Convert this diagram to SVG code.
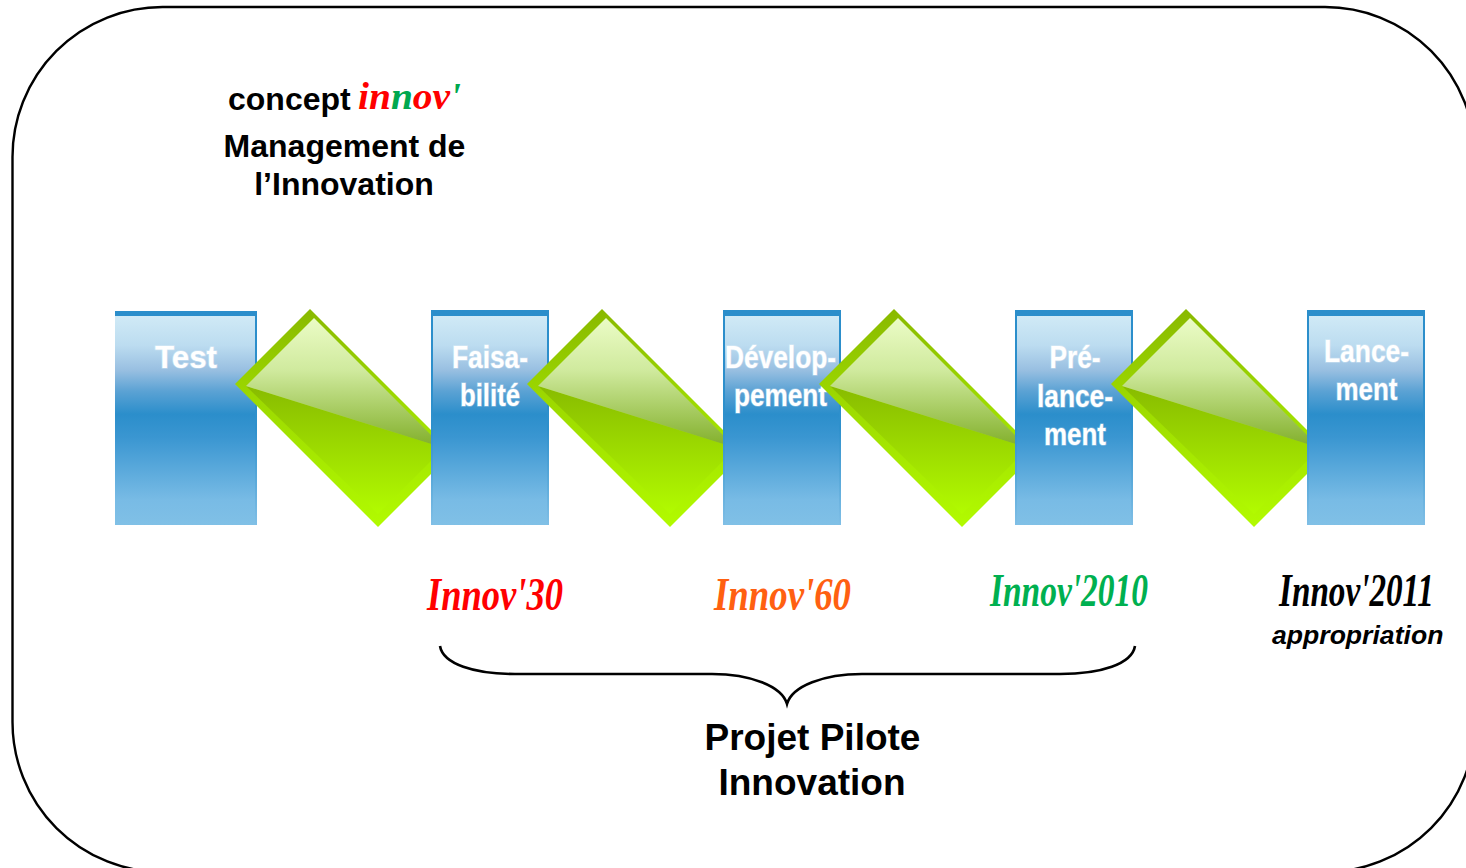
<svg xmlns="http://www.w3.org/2000/svg" width="1466" height="868" viewBox="0 0 1466 868">
<style>
text{font-family:"Liberation Sans",Arial,sans-serif;font-weight:bold;fill:#000}
.mid{text-anchor:middle}
.t32{font-size:32px}
.t37{font-size:37px}
.lbl{font-size:32px;fill:#fff;stroke:#fff;stroke-opacity:.3;stroke-width:1.6px;paint-order:stroke;text-anchor:middle}
.brush{font-family:"Liberation Serif","Times New Roman",serif;font-style:italic;font-weight:bold;font-size:46px}
.small{font-size:38px}
.frame,.brace{fill:none;stroke:#000}
.frame{stroke-width:2.4}
.brace{stroke-width:2.6}
</style>
<defs>
<linearGradient id="gBorder" x1="0" y1="0" x2="0" y2="1">
<stop offset="0" stop-color="#2b8ecb"/><stop offset=".55" stop-color="#2e90cc"/><stop offset="1" stop-color="#80bfe6"/>
</linearGradient>
<linearGradient id="gInner" x1="0" y1="0" x2="0" y2="1">
<stop offset="0" stop-color="#d0eaf6"/><stop offset=".14" stop-color="#bcdcf0"/><stop offset=".26" stop-color="#98bfe1"/><stop offset=".36" stop-color="#5ba2d4"/><stop offset=".47" stop-color="#2b8ecb"/><stop offset=".58" stop-color="#3a96d1"/><stop offset=".88" stop-color="#78bbe5"/><stop offset="1" stop-color="#80c0e6"/>
</linearGradient>
<linearGradient id="gDia" x1="0" y1="0" x2="0" y2="1">
<stop offset="0" stop-color="#89b900"/><stop offset=".4" stop-color="#9cd800"/><stop offset="1" stop-color="#b2fb00"/>
</linearGradient>
<linearGradient id="gLow" x1="0" y1="0" x2="0" y2="1">
<stop offset="0" stop-color="#88bb00"/><stop offset="1" stop-color="#b2fb00"/>
</linearGradient>
<linearGradient id="gHi" x1="0" y1="0" x2="0" y2="1">
<stop offset="0" stop-color="#ebfcc6"/><stop offset=".4" stop-color="#d0ea9e"/><stop offset="1" stop-color="#80ae28"/>
</linearGradient>
<g id="dia">
<polygon points="310,309 235,384 378,527 453,452" fill="url(#gDia)"/>
<polygon points="246,386 444,448 378,514" fill="url(#gLow)"/>
<polygon points="246,386 314,318 444,448" fill="url(#gHi)"/>
</g>
</defs>

<rect class="frame" x="12.5" y="7" width="1462.5" height="865" rx="150" ry="150"/>

<g id="title">
<text class="t32" x="228" y="110">concept</text>
<text class="brush small" x="358" y="109" textLength="103" lengthAdjust="spacingAndGlyphs" style="fill:#f00"><tspan style="fill:#f00">in</tspan><tspan style="fill:#00a84f">n</tspan><tspan style="fill:#f00">ov</tspan><tspan style="fill:#00a84f">'</tspan></text>
<text class="t32 mid" x="344.500" y="157">Management de</text>
<text class="t32 mid" x="344" y="195">l’Innovation</text>
</g>

<g id="node-test">
<rect x="115" y="311" width="142" height="214" fill="url(#gBorder)"/>
<rect x="115" y="316" width="140" height="209" fill="url(#gInner)"/>
<text class="lbl" x="186" y="368" textLength="62" lengthAdjust="spacingAndGlyphs">Test</text>
</g>
<g id="step-1"><use href="#dia"/></g>

<g id="node-faisabilite">
<rect x="431" y="310" width="118" height="215" fill="url(#gBorder)"/>
<rect x="433" y="316" width="114" height="209" fill="url(#gInner)"/>
<text class="lbl" x="490" y="368" textLength="76" lengthAdjust="spacingAndGlyphs">Faisa-</text>
<text class="lbl" x="490" y="406" textLength="60" lengthAdjust="spacingAndGlyphs">bilité</text>
</g>
<g id="step-2"><use href="#dia" x="292"/></g>

<g id="node-developpement">
<rect x="723" y="310" width="118" height="215" fill="url(#gBorder)"/>
<rect x="725" y="316" width="114" height="209" fill="url(#gInner)"/>
<text class="lbl" x="780.500" y="368" textLength="111" lengthAdjust="spacingAndGlyphs">Dévelop-</text>
<text class="lbl" x="780.500" y="406" textLength="93" lengthAdjust="spacingAndGlyphs">pement</text>
</g>
<g id="step-3"><use href="#dia" x="584"/></g>

<g id="node-prelancement">
<rect x="1015" y="310" width="118" height="215" fill="url(#gBorder)"/>
<rect x="1017" y="316" width="114" height="209" fill="url(#gInner)"/>
<text class="lbl" x="1075" y="368" textLength="51" lengthAdjust="spacingAndGlyphs">Pré-</text>
<text class="lbl" x="1075" y="407" textLength="76" lengthAdjust="spacingAndGlyphs">lance-</text>
<text class="lbl" x="1075" y="445" textLength="62" lengthAdjust="spacingAndGlyphs">ment</text>
</g>
<g id="step-4"><use href="#dia" x="876"/></g>

<g id="node-lancement">
<rect x="1307" y="310" width="118" height="215" fill="url(#gBorder)"/>
<rect x="1309" y="316" width="114" height="209" fill="url(#gInner)"/>
<text class="lbl" x="1366.500" y="362" textLength="85" lengthAdjust="spacingAndGlyphs">Lance-</text>
<text class="lbl" x="1366.500" y="400" textLength="62" lengthAdjust="spacingAndGlyphs">ment</text>
</g>

<g id="innov-labels">
<text class="brush" x="427" y="610" textLength="136" lengthAdjust="spacingAndGlyphs" style="fill:#f00">Innov'30</text>
<text class="brush" x="714" y="610" textLength="137" lengthAdjust="spacingAndGlyphs" style="fill:#ff6011">Innov'60</text>
<text class="brush" x="990" y="606" textLength="158" lengthAdjust="spacingAndGlyphs" style="fill:#00b050">Innov'2010</text>
<text class="brush" transform="translate(1279 606) scale(.714 1)" x="0" y="0" textLength="217" lengthAdjust="spacingAndGlyphs">Innov'2011</text>
<text x="1272" y="644" font-size="26.600" font-style="italic">appropriation</text>
</g>

<g id="connectors">
<path class="brace" d="M440 646C443 664 474 674 515 674H712C750 674 782 686 787 704C792 686 824 674 862 674H1060C1101 674 1132 664 1135 646"/>
</g>

<g id="project">
<text class="t37 mid" x="812.500" y="750">Projet Pilote</text>
<text class="t37 mid" x="812" y="795">Innovation</text>
</g>
</svg>
